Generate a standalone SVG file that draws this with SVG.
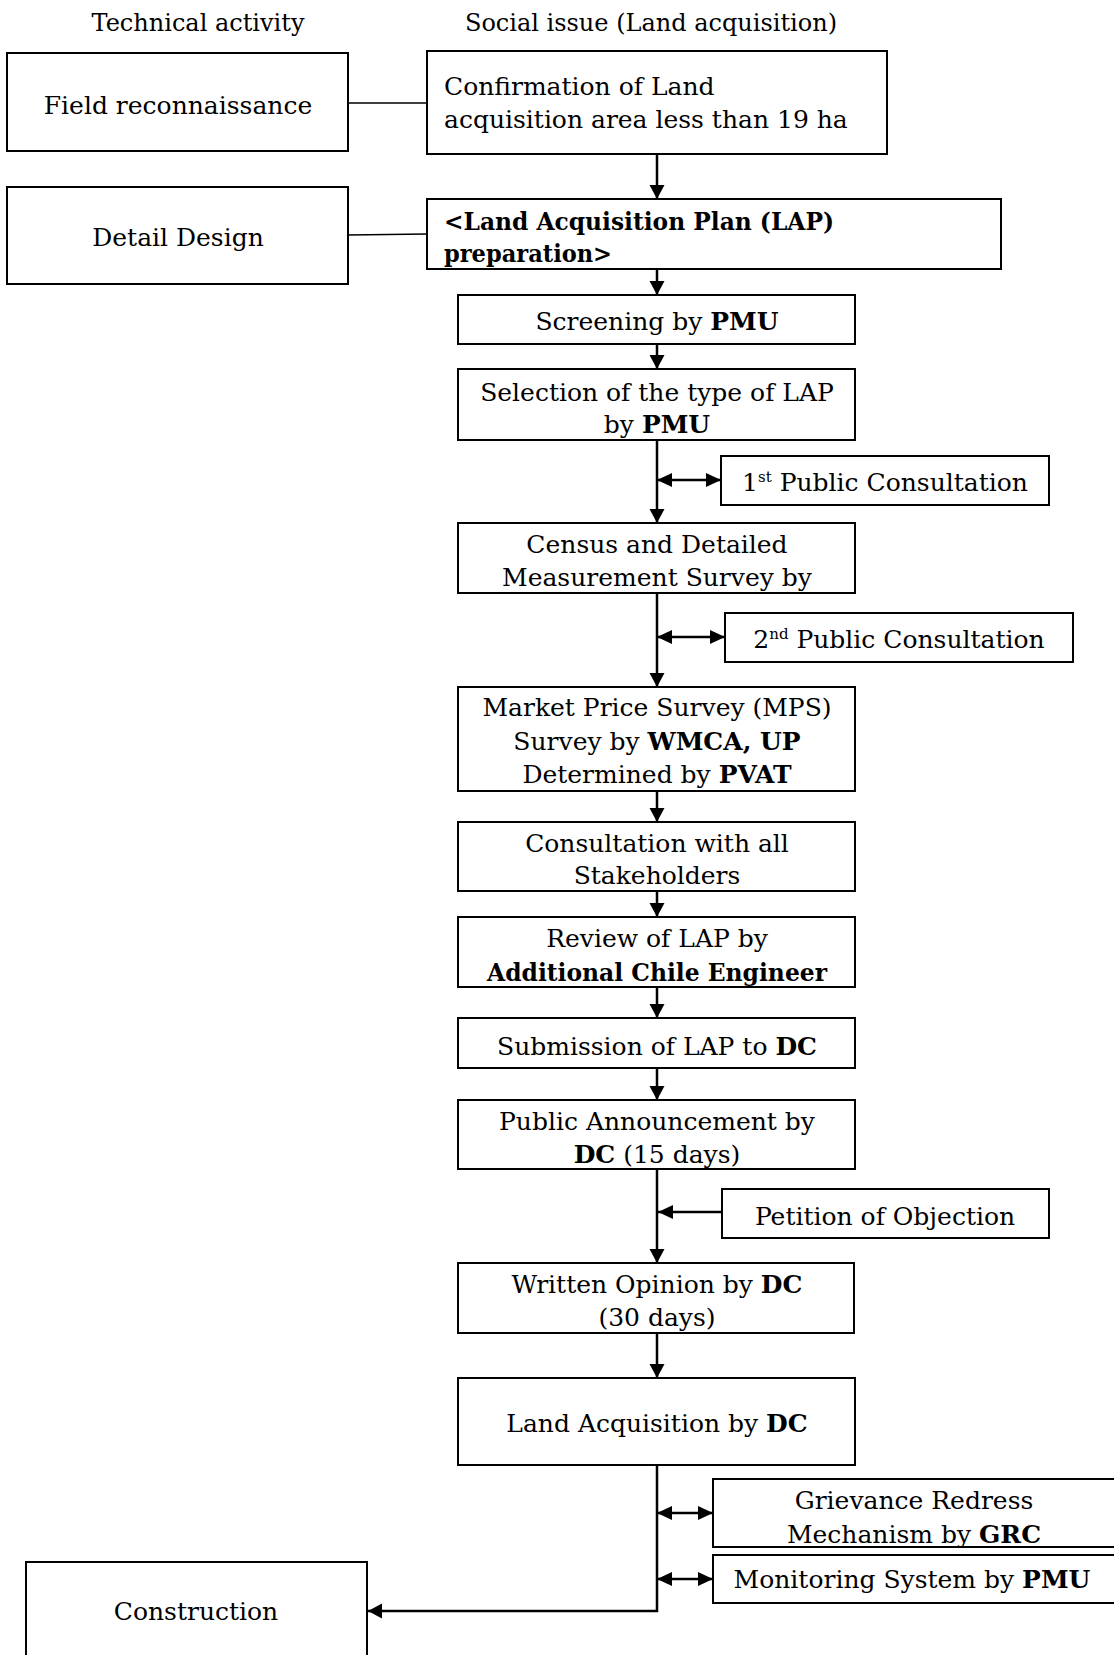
<svg xmlns="http://www.w3.org/2000/svg" width="1114" height="1655" viewBox="0 0 1114 1655">
  <style>
    .box { fill: #fff; stroke: #000; stroke-width: 2; }
    .t { font-family: "DejaVu Serif", "Liberation Serif", serif; font-size: 25px; fill: #000; }
    .c { text-anchor: middle; }
    .h { font-size: 24px; }
    .b { font-weight: bold; }
    .sup { font-size: 15px; }
    .flow { fill: none; stroke: #000; stroke-width: 2.5; }
    .link { fill: none; stroke: #000; stroke-width: 1.3; }
  </style>
  <defs>
    <marker id="arrow" markerUnits="userSpaceOnUse" markerWidth="15" markerHeight="16" refX="14" refY="8" orient="auto-start-reverse">
      <path d="M0,0.5 L14,8 L0,15.5 z" fill="#000"/>
    </marker>
    <marker id="arrowSmall" markerUnits="userSpaceOnUse" markerWidth="16" markerHeight="15" refX="15" refY="7.5" orient="auto-start-reverse">
      <path d="M0,0.5 L15,7.5 L0,14.5 z" fill="#000"/>
    </marker>
  </defs>

  <rect width="1114" height="1655" fill="#fff"/>

  <!-- column headers -->
  <g id="headers">
    <text class="t h c" x="198" y="31">Technical activity</text>
    <text class="t h c" x="651" y="31">Social issue (Land acquisition)</text>
  </g>

  <!-- connectors -->
  <g id="connectors">
    <line class="link" x1="348" y1="103" x2="427" y2="103"/>
    <line class="link" x1="348" y1="235" x2="427" y2="234"/>
    <line class="flow" x1="657" y1="155" x2="657" y2="199" marker-end="url(#arrow)"/>
    <line class="flow" x1="657" y1="269" x2="657" y2="295" marker-end="url(#arrow)"/>
    <line class="flow" x1="657" y1="344" x2="657" y2="369" marker-end="url(#arrow)"/>
    <line class="flow" x1="657" y1="440" x2="657" y2="523" marker-end="url(#arrow)"/>
    <line class="flow" x1="657" y1="480" x2="721" y2="480" marker-start="url(#arrowSmall)" marker-end="url(#arrowSmall)"/>
    <line class="flow" x1="657" y1="593" x2="657" y2="687" marker-end="url(#arrow)"/>
    <line class="flow" x1="657" y1="637" x2="725" y2="637" marker-start="url(#arrowSmall)" marker-end="url(#arrowSmall)"/>
    <line class="flow" x1="657" y1="791" x2="657" y2="822" marker-end="url(#arrow)"/>
    <line class="flow" x1="657" y1="891" x2="657" y2="917" marker-end="url(#arrow)"/>
    <line class="flow" x1="657" y1="987" x2="657" y2="1018" marker-end="url(#arrow)"/>
    <line class="flow" x1="657" y1="1068" x2="657" y2="1100" marker-end="url(#arrow)"/>
    <line class="flow" x1="657" y1="1169" x2="657" y2="1263" marker-end="url(#arrow)"/>
    <line class="flow" x1="722" y1="1212" x2="658" y2="1212" marker-end="url(#arrowSmall)"/>
    <line class="flow" x1="657" y1="1333" x2="657" y2="1378" marker-end="url(#arrow)"/>
    <polyline class="flow" points="657,1465 657,1611 368,1611" marker-end="url(#arrow)"/>
    <line class="flow" x1="657" y1="1513" x2="713" y2="1513" marker-start="url(#arrowSmall)" marker-end="url(#arrowSmall)"/>
    <line class="flow" x1="657" y1="1579" x2="713" y2="1579" marker-start="url(#arrowSmall)" marker-end="url(#arrowSmall)"/>
  </g>

  <!-- technical activity column -->
  <g id="field-reconnaissance">
    <rect class="box" x="7" y="53" width="341" height="98"/>
    <text class="t c" x="178" y="114">Field reconnaissance</text>
  </g>
  <g id="detail-design">
    <rect class="box" x="7" y="187" width="341" height="97"/>
    <text class="t c" x="178" y="246">Detail Design</text>
  </g>
  <g id="construction">
    <rect class="box" x="26" y="1562" width="341" height="110"/>
    <text class="t c" x="196" y="1620">Construction</text>
  </g>

  <!-- land acquisition column -->
  <g id="confirmation">
    <rect class="box" x="427" y="51" width="460" height="103"/>
    <text class="t" x="444" y="95">Confirmation of Land</text>
    <text class="t" x="444" y="128">acquisition area less than 19 ha</text>
  </g>
  <g id="lap-preparation">
    <rect class="box" x="427" y="199" width="574" height="70"/>
    <text class="t b" x="444" y="230" textLength="390" lengthAdjust="spacingAndGlyphs">&lt;Land Acquisition Plan (LAP)</text>
    <text class="t b" x="444" y="262" textLength="168" lengthAdjust="spacingAndGlyphs">preparation&gt;</text>
  </g>
  <g id="screening">
    <rect class="box" x="458" y="295" width="397" height="49"/>
    <text class="t c" x="657" y="330">Screening by <tspan class="b">PMU</tspan></text>
  </g>
  <g id="selection">
    <rect class="box" x="458" y="369" width="397" height="71"/>
    <text class="t c" x="657" y="401">Selection of the type of LAP</text>
    <text class="t c" x="657" y="433">by <tspan class="b">PMU</tspan></text>
  </g>
  <g id="public-consultation-1">
    <rect class="box" x="721" y="456" width="328" height="49"/>
    <text class="t c" x="885" y="491">1<tspan class="sup" dy="-9">st</tspan><tspan dy="9"> Public Consultation</tspan></text>
  </g>
  <g id="census">
    <rect class="box" x="458" y="523" width="397" height="70"/>
    <text class="t c" x="657" y="553">Census and Detailed</text>
    <text class="t c" x="657" y="586">Measurement Survey by</text>
  </g>
  <g id="public-consultation-2">
    <rect class="box" x="725" y="613" width="348" height="49"/>
    <text class="t c" x="899" y="648">2<tspan class="sup" dy="-9">nd</tspan><tspan dy="9"> Public Consultation</tspan></text>
  </g>
  <g id="market-price-survey">
    <rect class="box" x="458" y="687" width="397" height="104"/>
    <text class="t c" x="657" y="716">Market Price Survey (MPS)</text>
    <text class="t c" x="657" y="750">Survey by <tspan class="b">WMCA, UP</tspan></text>
    <text class="t c" x="657" y="783">Determined by <tspan class="b">PVAT</tspan></text>
  </g>
  <g id="stakeholder-consultation">
    <rect class="box" x="458" y="822" width="397" height="69"/>
    <text class="t c" x="657" y="852">Consultation with all</text>
    <text class="t c" x="657" y="884">Stakeholders</text>
  </g>
  <g id="lap-review">
    <rect class="box" x="458" y="917" width="397" height="70"/>
    <text class="t c" x="657" y="947">Review of LAP by</text>
    <text class="t c b" x="657" y="981" textLength="340" lengthAdjust="spacingAndGlyphs">Additional Chile Engineer</text>
  </g>
  <g id="lap-submission">
    <rect class="box" x="458" y="1018" width="397" height="50"/>
    <text class="t c" x="657" y="1055">Submission of LAP to <tspan class="b">DC</tspan></text>
  </g>
  <g id="public-announcement">
    <rect class="box" x="458" y="1100" width="397" height="69"/>
    <text class="t c" x="657" y="1130">Public Announcement by</text>
    <text class="t c" x="657" y="1163"><tspan class="b">DC</tspan> (15 days)</text>
  </g>
  <g id="petition-of-objection">
    <rect class="box" x="722" y="1189" width="327" height="49"/>
    <text class="t c" x="885" y="1225">Petition of Objection</text>
  </g>
  <g id="written-opinion">
    <rect class="box" x="458" y="1263" width="396" height="70"/>
    <text class="t c" x="657" y="1293">Written Opinion by <tspan class="b">DC</tspan></text>
    <text class="t c" x="657" y="1326">(30 days)</text>
  </g>
  <g id="land-acquisition">
    <rect class="box" x="458" y="1378" width="397" height="87"/>
    <text class="t c" x="657" y="1432">Land Acquisition by <tspan class="b">DC</tspan></text>
  </g>
  <g id="grievance-redress">
    <rect class="box" x="713" y="1479" width="410" height="68"/>
    <text class="t c" x="914" y="1509">Grievance Redress</text>
    <text class="t c" x="914" y="1543">Mechanism by <tspan class="b">GRC</tspan></text>
  </g>
  <g id="monitoring">
    <rect class="box" x="713" y="1555" width="410" height="48"/>
    <text class="t c" x="912" y="1588">Monitoring System by <tspan class="b">PMU</tspan></text>
  </g>
</svg>
